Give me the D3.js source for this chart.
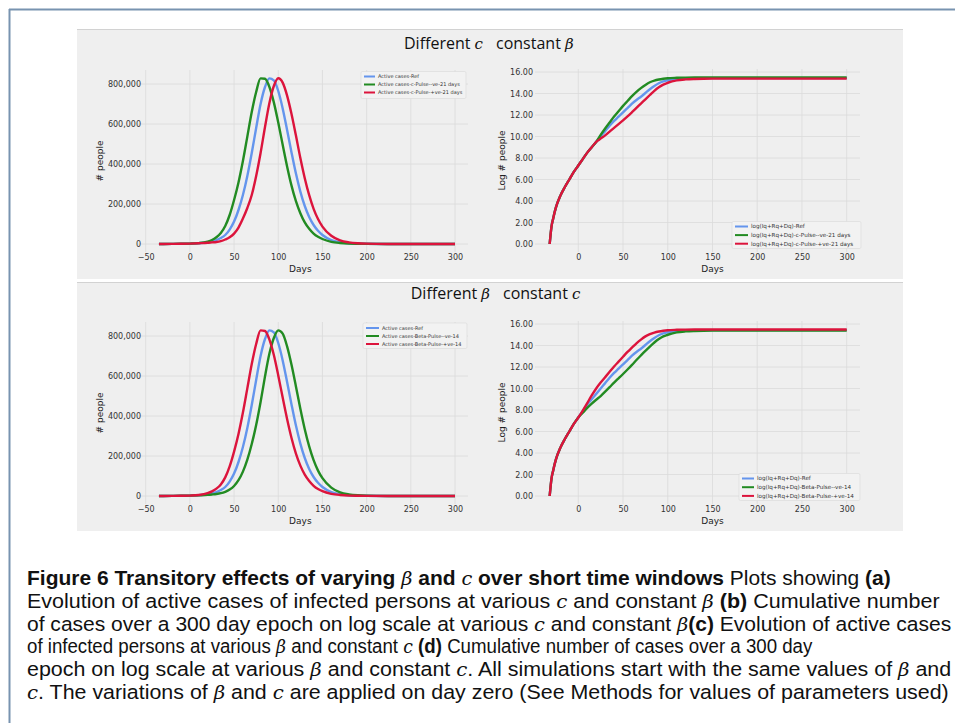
<!DOCTYPE html>
<html><head><meta charset="utf-8">
<script src="https://cdn.jsdelivr.net/npm/d3@7"></script>
<style>body{margin:0;background:#fff}svg{display:block}</style>
</head><body>
<svg id="c" width="955" height="723"></svg>
<script>
// ---------- data ----------
const activeDays = [-35,-30,-20,-10,0,10,20,25,30,35,40,45,50,55,60,65,70,75,80,85,90,95,100,105,110,115,120,125,130,135,140,145,150,160,170,180,190,200,225,250,275,300];
// values in thousands of people
const activeRef   = [0,0.2,0.5,1,2,4,9,13,20,30,45,72,112,170,245,340,455,580,700,785,828,818,765,678,570,458,352,262,190,135,95,66,45,20,9,4,2,1,0.2,0,0,0];
const activeCNeg  = [0,0.2,0.5,1,2,4.5,12,20,34,55,90,145,220,308,415,537,660,760,828,826,785,708,607,496,388,292,214,154,108,76,52,36,25,11,5,2,1,0.5,0,0,0,0];
const activeCPos  = [0,0.2,0.5,1,2,3.8,6,8,10,14.5,22.5,33.5,52,82,127,180,245,340,455,585,705,790,829,807,742,650,542,430,329,244,176,125,87,41,18,8,3.5,1.7,0.3,0,0,0];
const activeBNeg  = [0,0.2,0.5,1,2,3.5,5.5,7.5,10,14,21,32,50,79,122,182,260,355,470,598,712,790,828,812,748,656,548,436,334,248,179,127,89,42,18,8,3.5,1.7,0.3,0,0,0];
const activeBPos  = [0,0.2,0.5,1,2,5,14,23,37,58,93,148,222,310,417,538,660,760,828,825,782,705,603,492,385,290,212,152,107,75,51,35,24,11,5,2,1,0.5,0,0,0,0];

const logDays = [-32,-30,-28,-25,-20,-15,-10,-5,0,5,10,15,20,25,30,35,40,45,50,55,60,65,70,75,80,85,90,95,100,110,120,130,140,150,175,200,250,300];
const logRef  = [0,1.6,2.4,3.4,4.5,5.3,6.0,6.7,7.3,7.9,8.5,9.0,9.5,10.0,10.5,11.0,11.45,11.85,12.25,12.65,13.05,13.4,13.7,14.05,14.4,14.7,14.95,15.12,15.23,15.35,15.4,15.42,15.43,15.43,15.43,15.43,15.43,15.43];
const logCNeg = [0,1.6,2.4,3.4,4.5,5.3,6.0,6.7,7.3,7.9,8.5,9.0,9.5,10.15,10.75,11.3,11.85,12.35,12.85,13.3,13.75,14.15,14.5,14.8,15.05,15.2,15.3,15.37,15.42,15.46,15.48,15.49,15.49,15.49,15.49,15.49,15.49,15.49];
const logCPos = [0,1.6,2.4,3.4,4.5,5.3,6.0,6.7,7.3,7.9,8.5,9.0,9.5,9.8,10.1,10.45,10.8,11.15,11.5,11.87,12.26,12.66,13.06,13.46,13.86,14.25,14.58,14.83,15.0,15.22,15.31,15.35,15.37,15.38,15.38,15.38,15.38,15.38];
const logBNeg = [0,1.6,2.4,3.4,4.5,5.3,6.0,6.7,7.3,7.75,8.2,8.6,8.95,9.3,9.7,10.12,10.55,10.95,11.35,11.77,12.2,12.65,13.08,13.5,13.9,14.28,14.6,14.85,15.0,15.22,15.31,15.35,15.37,15.38,15.38,15.38,15.38,15.38];
const logBPos = [0,1.6,2.4,3.4,4.5,5.3,6.0,6.7,7.3,7.95,8.65,9.35,10.0,10.55,11.05,11.55,12.05,12.5,12.95,13.4,13.8,14.2,14.55,14.85,15.05,15.2,15.3,15.37,15.42,15.46,15.48,15.49,15.49,15.49,15.49,15.49,15.49,15.49];

const xTicks = [-50,0,50,100,150,200,250,300];
const xTicksLog = [0,50,100,150,200,250,300];
const activeTicks = [0,200000,400000,600000,800000];
const logTicks = [0,2,4,6,8,10,12,14,16];

const legendTopLeft  = ["Active cases-Ref","Active cases-c-Pulse--ve-21 days","Active cases-c-Pulse-+ve-21 days"];
const legendTopRight = ["log(Iq+Rq+Dq)-Ref","log(Iq+Rq+Dq)-c-Pulse--ve-21 days","log(Iq+Rq+Dq)-c-Pulse-+ve-21 days"];
const legendBotLeft  = ["Active cases-Ref","Active cases-Beta-Pulse--ve-14","Active cases-Beta-Pulse-+ve-14"];
const legendBotRight = ["log(Iq+Rq+Dq)-Ref","log(Iq+Rq+Dq)-Beta-Pulse--ve-14","log(Iq+Rq+Dq)-Beta-Pulse-+ve-14"];

const BLUE="#6495ed", GREEN="#228b22", RED="#dc143c";

// ---------- drawing ----------
const svg = d3.select("#c");
svg.append("rect").attr("width",955).attr("height",723).attr("fill","#fff");

svg.append("line").attr("x1",9).attr("x2",955).attr("y1",9.5).attr("y2",9.5).attr("stroke","#7893b0").attr("stroke-width",2);
svg.append("line").attr("x1",9.5).attr("x2",9.5).attr("y1",9).attr("y2",723).attr("stroke","#7893b0").attr("stroke-width",2);

[[29,279],[282,531]].forEach(([y0,y1])=>{
  svg.append("rect").attr("x",77).attr("y",y0).attr("width",826).attr("height",y1-y0).attr("fill","#efefef");
  svg.append("line").attr("x1",77).attr("x2",903).attr("y1",y0+0.5).attr("y2",y0+0.5).attr("stroke","#d2d2d2").attr("stroke-width",1);
});

function mathTitle(xEnd, xStart, y, leftWord, leftSym, rightWord, rightSym){
  const a = svg.append("text").attr("x",xEnd).attr("y",y).attr("text-anchor","end")
    .attr("font-family","'Open Sans','Noto Sans',sans-serif").attr("font-size",16).attr("fill","#111");
  a.append("tspan").text(leftWord+" ");
  a.append("tspan").attr("font-style","italic").attr("font-family","'DejaVu Serif',serif").attr("font-size",15).text(leftSym);
  const b = svg.append("text").attr("x",xStart).attr("y",y)
    .attr("font-family","'Open Sans','Noto Sans',sans-serif").attr("font-size",16).attr("fill","#111");
  b.append("tspan").text(rightWord+" ");
  b.append("tspan").attr("font-style","italic").attr("font-family","'DejaVu Serif',serif").attr("font-size",15).text(rightSym);
}
mathTitle(483, 496, 49, "Different", "c", "constant", "β");
mathTitle(490, 503, 299, "Different", "β", "constant", "c");

function panel(cfg){
  const g = svg.append("g");
  const x = d3.scaleLinear().domain(cfg.xDom).range(cfg.xRange);
  const y = d3.scaleLinear().domain(cfg.yDom).range(cfg.yRange);
  g.selectAll(null).data(cfg.xTicks).enter().append("line")
    .attr("x1",d=>x(d)).attr("x2",d=>x(d)).attr("y1",cfg.gy[0]).attr("y2",cfg.gy[1])
    .attr("stroke","#dadada").attr("stroke-width",0.8);
  g.selectAll(null).data(cfg.yTicks).enter().append("line")
    .attr("y1",d=>y(d)).attr("y2",d=>y(d)).attr("x1",cfg.gx[0]).attr("x2",cfg.gx[1])
    .attr("stroke","#dadada").attr("stroke-width",0.8);
  const xa = d3.axisBottom(x).tickValues(cfg.xTicks).tickSize(0).tickPadding(0).tickFormat(d=>d<0?"\u2212"+Math.abs(d):d);
  const xg = g.append("g").attr("transform",`translate(0,${cfg.gy[1]+2})`).call(xa);
  xg.select(".domain").remove();
  xg.selectAll("text").attr("font-family","'DejaVu Sans',sans-serif").attr("font-size",8).attr("fill","#333").attr("dy","0.71em");
  const ya = d3.axisLeft(y).tickValues(cfg.yTicks).tickSize(0).tickPadding(0).tickFormat(cfg.yFmt);
  const yg = g.append("g").attr("transform",`translate(${cfg.yLabX},0)`).call(ya);
  yg.select(".domain").remove();
  yg.selectAll("text").attr("font-family","'DejaVu Sans',sans-serif").attr("font-size",8).attr("fill","#333");
  g.append("text").attr("x",(x(cfg.xTicks[0])+x(cfg.xTicks[cfg.xTicks.length-1]))/2).attr("y",cfg.xTitleY)
    .attr("text-anchor","middle").attr("font-family","'DejaVu Sans',sans-serif").attr("font-size",9).attr("fill","#222").text("Days");
  g.append("text").attr("transform",`translate(${cfg.yTitleX},${(cfg.gy[0]+cfg.gy[1])/2}) rotate(-90)`)
    .attr("text-anchor","middle").attr("font-family","'DejaVu Sans',sans-serif").attr("font-size",9).attr("fill","#222").text(cfg.yTitle);
  const line = d3.line().x((d,i)=>x(cfg.days[i])).y(d=>y(d*cfg.mult)).curve(d3.curveMonotoneX);
  cfg.series.forEach(s=>{
    g.append("path").datum(s.v).attr("d",line).attr("fill","none").attr("stroke",s.c).attr("stroke-width",2.4).attr("stroke-linejoin","round");
  });
  const L = cfg.legend;
  g.append("rect").attr("x",L.x).attr("y",L.y).attr("width",L.w).attr("height",L.h).attr("rx",1.5)
    .attr("fill","#f2f2f2").attr("stroke","#d8d8d8").attr("stroke-width",0.6);
  cfg.series.forEach((s,i)=>{
    const yy = L.y + L.r0 + i*L.dr;
    g.append("line").attr("x1",L.x+3).attr("x2",L.x+3+L.lw).attr("y1",yy).attr("y2",yy).attr("stroke",s.c).attr("stroke-width",2);
    g.append("text").attr("x",L.x+6+L.lw).attr("y",yy).attr("dy","0.35em")
      .attr("font-family","'DejaVu Sans',sans-serif").attr("font-size",L.fs).attr("fill","#333").text(s.label);
  });
}

const fmtComma = d3.format(",");
const fmt2 = d3.format(".2f");

function activePanel(dy, vals, labels, legendBox){
  panel({
    xDom:[-50,300], xRange:[145.7,455], yDom:[0,800000], yRange:[244+dy,84+dy],
    gx:[137,468], gy:[70+dy,252+dy], xTicks:xTicks, yTicks:activeTicks, yFmt:fmtComma,
    yLabX:141, xTitleY:272+dy, yTitleX:103, yTitle:"# people",
    days:activeDays, mult:1000,
    series:[{v:vals[0],c:BLUE,label:labels[0]},{v:vals[1],c:GREEN,label:labels[1]},{v:vals[2],c:RED,label:labels[2]}],
    legend:legendBox
  });
}
function logPanel(dy, vals, labels, legendBox){
  panel({
    xDom:[0,300], xRange:[578.3,846.7], yDom:[0,16], yRange:[244+dy,72+dy],
    gx:[535,860], gy:[69+dy,252+dy], xTicks:xTicksLog, yTicks:logTicks, yFmt:fmt2,
    yLabX:533, xTitleY:272+dy, yTitleX:505, yTitle:"Log # people",
    days:logDays, mult:1,
    series:[{v:vals[0],c:BLUE,label:labels[0]},{v:vals[1],c:GREEN,label:labels[1]},{v:vals[2],c:RED,label:labels[2]}],
    legend:legendBox
  });
}

activePanel(0, [activeRef,activeCNeg,activeCPos], legendTopLeft, {x:361,y:71.5,w:105,h:27,r0:5,dr:8,lw:11,fs:5});
logPanel(0, [logRef,logCNeg,logCPos], legendTopRight, {x:732,y:221.5,w:129,h:27,r0:5,dr:8.6,lw:13,fs:5.6});
activePanel(252, [activeRef,activeBNeg,activeBPos], legendBotLeft, {x:363,y:323,w:104,h:25.5,r0:5,dr:8,lw:13,fs:5});
logPanel(252, [logRef,logBNeg,logBPos], legendBotRight, {x:739,y:473.5,w:121,h:27,r0:5,dr:8.7,lw:12,fs:5.6});

// ---------- caption ----------
const capLines = [
  {w:864, segs:[["b","Figure 6  Transitory effects of varying "],["m","β"],["b"," and "],["m","c"],["b"," over short time windows"],["n"," Plots showing "],["b","(a)"]]},
  {w:913, segs:[["n","Evolution of active cases of infected persons at various "],["m","c"],["n"," and constant "],["m","β"],["n"," "],["b","(b)"],["n"," Cumulative number"]]},
  {w:925, segs:[["n","of cases over a 300 day epoch on log scale at various "],["m","c"],["n"," and constant "],["m","β"],["b","(c)"],["n"," Evolution of active cases"]]},
  {w:786, segs:[["n","of infected persons at various "],["m","β"],["n"," and constant "],["m","c"],["n"," "],["b","(d)"],["n"," Cumulative number of cases over a 300 day"]]},
  {w:925, segs:[["n","epoch on log scale at various "],["m","β"],["n"," and constant "],["m","c"],["n",". All simulations start with the same values of "],["m","β"],["n"," and"]]},
  {w:922, segs:[["m","c"],["n",". The variations of "],["m","β"],["n"," and "],["m","c"],["n"," are applied on day zero (See Methods for values of parameters used)"]]}
];
capLines.forEach((ln,i)=>{
  const y = 585 + i*22.8;
  const t = svg.append("text").attr("x",0).attr("y",0)
    .attr("font-family","'Liberation Sans',Arial,sans-serif").attr("font-size",19.5).attr("fill","#111");
  ln.segs.forEach(([s,txt])=>{
    const sp = t.append("tspan").text(txt);
    if(s==="b") sp.attr("font-weight","bold");
    if(s==="m") sp.attr("font-style","italic").attr("font-family","'DejaVu Serif','Liberation Serif',serif").attr("font-size",18);
  });
  const w = t.node().getComputedTextLength();
  t.attr("transform",`translate(27,${y}) scale(${ln.w / w},1)`);
});
</script>
</body></html>
